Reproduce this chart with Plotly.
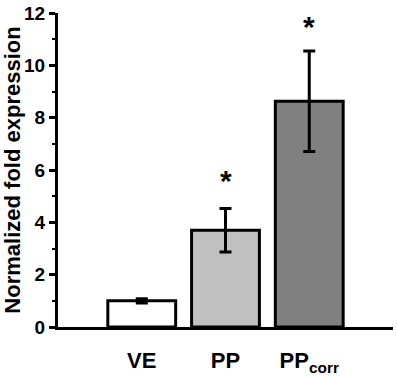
import plotly.graph_objects as go

categories = ["VE", "PP", "PPcorr"]
tick_labels = ["VE", "PP", "PP<sub>corr</sub>"]
values = [1.0, 3.7, 8.63]
errors = [0.08, 0.83, 1.92]
colors = ["#ffffff", "#c0c0c0", "#808080"]
sig_marks = ["", "*", "*"]
sig_y = [None, 5.6, 11.5]

FONT = "Liberation Sans"

fig = go.Figure()
fig.add_trace(go.Bar(
    x=[0, 1, 2], y=values,
    marker=dict(color=colors, line=dict(color="black", width=3)),
    error_y=dict(type="data", array=errors, visible=True, color="black", thickness=3, width=6),
    width=0.81,
))

for i, (m, yy) in enumerate(zip(sig_marks, sig_y)):
    if m:
        fig.add_annotation(x=i, y=yy, text=m, showarrow=False,
                           font=dict(size=30, color="black", family=FONT, weight="bold"),
                           xanchor="center", yanchor="middle")

fig.update_layout(
    width=397, height=377,
    margin=dict(l=58, r=4, t=13, b=50),
    plot_bgcolor="white", paper_bgcolor="white",
    showlegend=False,
    font=dict(family=FONT, color="black", size=18, weight="bold"),
)
fig.update_xaxes(
    range=[-1, 3], tickvals=[0, 1, 2], ticktext=tick_labels,
    showline=True, linecolor="black", linewidth=3, ticks="", showgrid=False, zeroline=False,
    tickfont=dict(size=22, family=FONT, color="black", weight="bold"), ticklabelstandoff=12,
    automargin=False, ticklabeloverflow="allow",
)
fig.update_yaxes(
    range=[0, 12], tickvals=[0, 2, 4, 6, 8, 10, 12],
    ticktext=[str(v) for v in [0, 2, 4, 6, 8, 10, 12]],
    showline=True, linecolor="black", linewidth=3, ticks="outside", ticklen=6, tickwidth=3,
    tickcolor="black", showgrid=False, zeroline=False,
    minor=dict(tickvals=[1, 3, 5, 7, 9, 11], ticks="outside", ticklen=3, tickwidth=2, tickcolor="black"),
    tickfont=dict(size=19, family=FONT, color="black", weight="bold"),
    title=dict(text="Normalized fold expression", font=dict(size=22, family=FONT, color="black", weight="bold"), standoff=2),
    automargin=False, ticklabeloverflow="allow",
)

fig.write_html("out.html", config={"displayModeBar": False},
               post_script="document.body.style.margin='0px';")
